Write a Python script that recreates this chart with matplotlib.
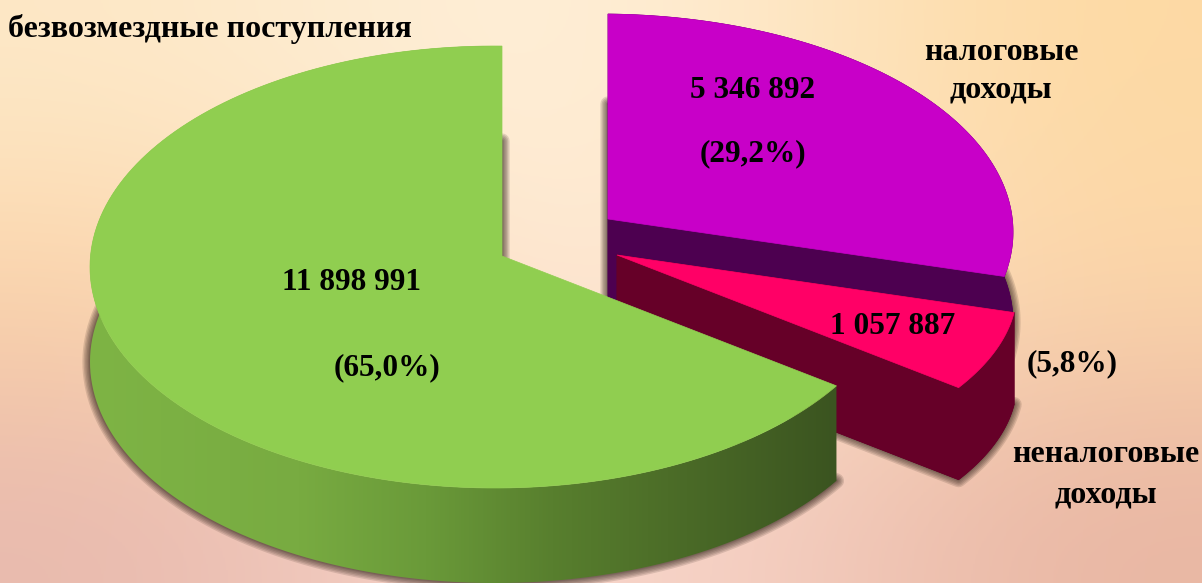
import numpy as np
import matplotlib
matplotlib.use('Agg')
import matplotlib.pyplot as plt
from matplotlib.patches import Polygon
from matplotlib.colors import LinearSegmentedColormap, to_rgb

# data
valores = [5346892, 1057887, 11898991]
rotulos_valor = ['5 346 892', '1 057 887', '11 898 991']
rotulos_pct = ['(29,2%)', '(5,8%)', '(65,0%)']
cores_topo = ['#c800c8', '#ff0066', '#90ce50']
cores_lado = ['#4d0050', '#660028', '#3b5420']

W, H = 1202, 583
plt.rcParams['font.family'] = ['Liberation Serif', 'DejaVu Serif']

# each slice was pulled apart: apex, rim ellipse (cx, cy, rx, ry), depth
geo = [
    {'apex': (608, 219), 'ell': (600, 232, 413, 218), 'prof': 90},
    {'apex': (617, 255), 'ell': (606, 290, 411, 190), 'prof': 92},
    {'apex': (502, 256), 'ell': (495, 267, 405, 221), 'prof': 95},
]
K = 0.535  # flattening of the pie


def borda(apex, ell, angulos):
    # ray from the apex up to the rim ellipse, angle clockwise from the top
    cx, cy, rx, ry = ell
    pts = []
    for a in np.radians(angulos):
        dx, dy = np.sin(a), -np.cos(a) * K
        ox, oy = (apex[0] - cx) / rx, (apex[1] - cy) / ry
        ux, uy = dx / rx, dy / ry
        qa = ux * ux + uy * uy
        qb = 2 * (ox * ux + oy * uy)
        qc = ox * ox + oy * oy - 1
        t = (-qb + np.sqrt(qb * qb - 4 * qa * qc)) / (2 * qa)
        pts.append((apex[0] + t * dx, apex[1] + t * dy))
    return np.array(pts)


fig = plt.figure(figsize=(W / 100, H / 100), dpi=100)
ax = fig.add_axes([0, 0, 1, 1])
ax.set_xlim(0, W)
ax.set_ylim(H, 0)
ax.axis('off')

# background
fundo = np.array([[to_rgb(c) for c in linha] for linha in [
    ['#fde8c6', '#fff3e2', '#fdd9a2'],
    ['#fcd3a6', '#fff0e4', '#fcd5a8'],
    ['#e8b9ad', '#fde0d7', '#e8b5a2'],
]])
ax.imshow(fundo, extent=(0, W, H, 0), aspect='auto', interpolation='bicubic', zorder=0)

fracoes = np.array(valores) / sum(valores) * 360
fim = np.cumsum(fracoes)
inicio = fim - fracoes

arcos = []
for g, a0, a1 in zip(geo, inicio, fim):
    arcos.append(borda(g['apex'], g['ell'], np.linspace(a0, a1, 160)))

# soft shadow around the bottom faces
for g, arco in zip(geo, arcos):
    base = np.vstack([g['apex'], arco]) + [0, g['prof']]
    for lw in [11, 9, 7, 5, 3, 1.5]:
        ax.add_patch(Polygon(base, closed=True, fc='none', ec='#2a1c14', lw=lw,
                             alpha=0.14, joinstyle='round', zorder=1))

# slices from back to front
for i, (g, arco) in enumerate(zip(geo, arcos)):
    z = 2 + i
    d = np.array([0, g['prof']])
    apex = np.array(g['apex'], dtype=float)
    topo = np.vstack([apex, arco])
    parede = np.vstack([arco, (arco + d)[::-1]])
    if i == 2:
        # green wall has a horizontal gradient
        cmap = LinearSegmentedColormap.from_list('verde', [
            (0.0, '#7eb445'), (0.28, '#78ab41'), (0.45, '#6a9a39'),
            (0.62, '#587f2e'), (0.8, '#4a6a27'), (1.0, '#3b5420')])
        xs = parede[:, 0]
        p = Polygon(parede, closed=True, fc='none', ec='none', zorder=z)
        ax.add_patch(p)
        im = ax.imshow(np.linspace(0, 1, 256).reshape(1, -1), cmap=cmap, aspect='auto',
                       extent=(xs.min(), xs.max(), H, 0), zorder=z)
        im.set_clip_path(p)
    else:
        for pol in [parede, np.vstack([apex, arco[0], arco[0] + d, apex + d]),
                    np.vstack([apex, arco[-1], arco[-1] + d, apex + d]), topo + d]:
            ax.add_patch(Polygon(pol, closed=True, fc=cores_lado[i], ec=cores_lado[i],
                                 lw=0.5, zorder=z))
    ax.add_patch(Polygon(topo, closed=True, fc=cores_topo[i], ec=cores_topo[i], lw=0.5, zorder=z + 0.5))

ax.set_xlim(0, W)
ax.set_ylim(H, 0)

# labels
fs = 22.5
kw = dict(ha='center', va='center', fontweight='bold', color='black', zorder=10)
ax.text(753, 90, rotulos_valor[0], fontsize=fs, **kw)
ax.text(753, 154, rotulos_pct[0], fontsize=fs, **kw)
ax.text(893, 326, rotulos_valor[1], fontsize=fs, **kw)
ax.text(1072, 364, rotulos_pct[1], fontsize=fs, **kw)
ax.text(351, 282, rotulos_valor[2], fontsize=fs, **kw)
ax.text(387, 368, rotulos_pct[2], fontsize=fs, **kw)

fs2 = 23
ax.text(210, 29, 'безвозмездные поступления', fontsize=fs2, **kw)
ax.text(1001, 52, 'налоговые', fontsize=fs2, **kw)
ax.text(1001, 90, 'доходы', fontsize=fs2, **kw)
ax.text(1106, 455, 'неналоговые', fontsize=fs2, **kw)
ax.text(1106, 495, 'доходы', fontsize=fs2, **kw)

plt.savefig('out.png', dpi=100)
